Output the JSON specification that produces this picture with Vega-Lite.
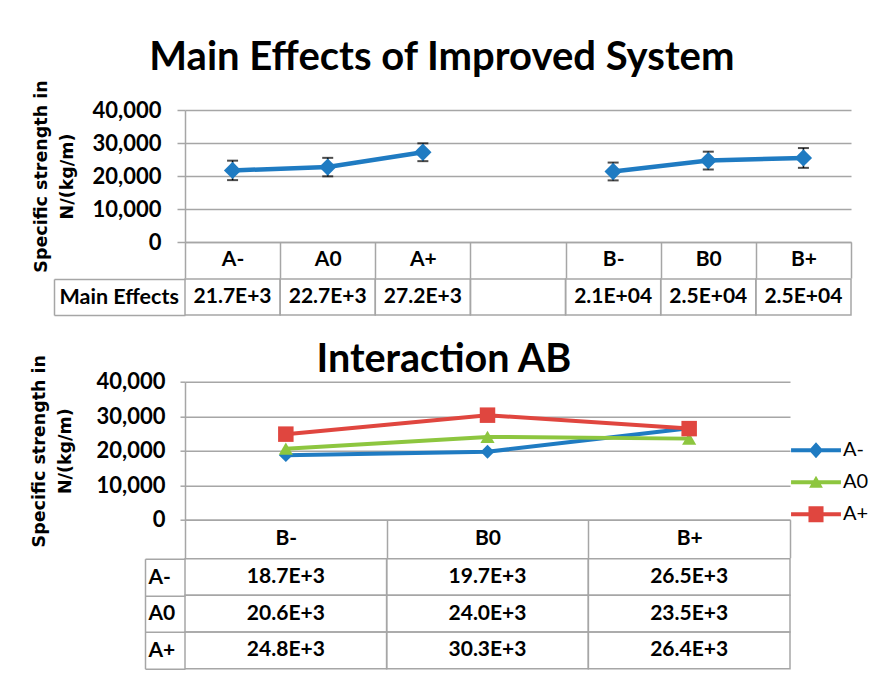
{
  "$schema": "https://vega.github.io/schema/vega-lite/v6.json",
  "background": "white",
  "padding": {"left": 30, "top": 37, "right": 0, "bottom": 0},
  "autosize": {"type": "pad"},
  "config": {"view": {"stroke": null}, "font": "Lato"},
  "datasets": {
    "main": [
      {"cat": "A-", "factor": "A", "value": 21700, "err": 2950, "row": "Main Effects", "label": "21.7E+3"},
      {"cat": "A0", "factor": "A", "value": 22700, "err": 2800, "row": "Main Effects", "label": "22.7E+3"},
      {"cat": "A+", "factor": "A", "value": 27200, "err": 2700, "row": "Main Effects", "label": "27.2E+3"},
      {"cat": " ", "factor": "none", "value": null, "err": null, "row": "Main Effects", "label": ""},
      {"cat": "B-", "factor": "B", "value": 21370, "err": 2700, "row": "Main Effects", "label": "2.1E+04"},
      {"cat": "B0", "factor": "B", "value": 24670, "err": 2700, "row": "Main Effects", "label": "2.5E+04"},
      {"cat": "B+", "factor": "B", "value": 25470, "err": 3000, "row": "Main Effects", "label": "2.5E+04"}
    ],
    "inter": [
      {"A": "A-", "B": "B-", "value": 18700, "label": "18.7E+3"},
      {"A": "A-", "B": "B0", "value": 19700, "label": "19.7E+3"},
      {"A": "A-", "B": "B+", "value": 26500, "label": "26.5E+3"},
      {"A": "A0", "B": "B-", "value": 20600, "label": "20.6E+3"},
      {"A": "A0", "B": "B0", "value": 24000, "label": "24.0E+3"},
      {"A": "A0", "B": "B+", "value": 23500, "label": "23.5E+3"},
      {"A": "A+", "B": "B-", "value": 24800, "label": "24.8E+3"},
      {"A": "A+", "B": "B0", "value": 30300, "label": "30.3E+3"},
      {"A": "A+", "B": "B+", "value": 26400, "label": "26.4E+3"}
    ]
  },
  "columns": 1,
  "spacing": 23.7,
  "resolve": {"scale": {"x": "independent", "y": "independent", "color": "independent"}},
  "concat": [
    {
      "spacing": -11.5,
      "resolve": {"scale": {"x": "independent", "y": "independent"}},
      "vconcat": [
        {
          "width": 666,
          "height": 132,
          "data": {"name": "main"},
          "title": {"text": "Main Effects of Improved System", "font": "Lato", "fontSize": 40, "fontWeight": "bold", "color": "#000000", "anchor": "middle", "frame": "bounds", "offset": 2},
          "transform": [{"filter": "isValid(datum.value)"}],
          "encoding": {
            "x": {"field": "cat", "type": "nominal",
              "scale": {"type": "band", "domain": ["A-", "A0", "A+", " ", "B-", "B0", "B+"], "paddingInner": 0, "paddingOuter": 0},
              "axis": {"title": null, "labelAngle": 0, "domain": true, "domainColor": "#A6A6A6", "domainWidth": 1.5, "ticks": true, "tickBand": "extent", "tickSize": 36, "tickColor": "#A6A6A6", "tickWidth": 1.5, "labelFont": "Lato", "labelFontWeight": "bold", "labelFontSize": 21, "labelColor": "#000000", "labelBaseline": "middle", "labelPadding": -19}},
            "y": {"field": "value", "type": "quantitative",
              "scale": {"domain": [0, 40000]},
              "axis": {"values": [0, 10000, 20000, 30000, 40000], "format": ",d", "title": ["Specific strength in", "N/(kg/m)"], "titleFont": "DejaVu Sans", "titleFontSize": 17.5, "titleFontWeight": "bold", "titleColor": "#000000", "titlePadding": 16, "titleLineHeight": 26, "grid": true, "gridColor": "#A6A6A6", "gridWidth": 1.5, "domain": true, "domainColor": "#A6A6A6", "domainWidth": 1.5, "tickSize": 8, "tickColor": "#A6A6A6", "tickWidth": 1.5, "labelFont": "Lato", "labelFontWeight": "bold", "labelFontSize": 22, "labelColor": "#000000", "labelPadding": 16}}
          },
          "layer": [
            {"mark": {"type": "line", "color": "#1F7BC2", "strokeWidth": 4.5}, "encoding": {"detail": {"field": "factor"}}},
            {"mark": {"type": "errorbar", "color": "#000000", "thickness": 1.5, "ticks": {"size": 11, "thickness": 2, "color": "#000000"}}, "encoding": {"yError": {"field": "err"}}},
            {"mark": {"type": "point", "shape": "diamond", "filled": true, "opacity": 1, "size": 300, "color": "#1F7BC2"}}
          ]
        },
        {
          "width": 666,
          "height": 36,
          "data": {"name": "main"},
          "encoding": {
            "x": {"field": "cat", "type": "nominal",
              "scale": {"type": "band", "domain": ["A-", "A0", "A+", " ", "B-", "B0", "B+"], "paddingInner": 0, "paddingOuter": 0},
              "axis": null}
          },
          "layer": [
            {"mark": {"type": "rect", "filled": false, "color": "#A6A6A6", "strokeWidth": 1.5},
              "encoding": {"y": {"field": "row", "type": "nominal",
                "axis": {"title": null, "domain": false, "ticks": true, "tickBand": "extent", "tickSize": 131, "tickColor": "#A6A6A6", "tickWidth": 1.5, "labelAlign": "left", "labelPadding": -5, "labelFont": "Lato", "labelFontWeight": "bold", "labelFontSize": 21.5, "labelColor": "#000000"}}}},
            {"mark": {"type": "text", "font": "Lato", "fontWeight": "bold", "fontSize": 21, "color": "#000000"},
              "encoding": {"text": {"field": "label"},
                "y": {"field": "row", "type": "nominal",
                  "axis": {"orient": "left", "offset": 131, "title": null, "domain": true, "domainColor": "#A6A6A6", "domainWidth": 1.5, "ticks": false, "labels": false}}}}
          ],
          "resolve": {"axis": {"y": "independent"}}
        }
      ]
    },
    {
      "spacing": -13,
      "resolve": {"scale": {"x": "independent", "y": "independent"}},
      "vconcat": [
        {
          "width": 605,
          "height": 138,
          "data": {"name": "inter"},
          "title": {"text": "Interaction AB", "font": "Lato", "fontSize": 39.5, "fontWeight": "bold", "color": "#000000", "anchor": "middle", "frame": "bounds", "offset": -26, "dx": 33.5},
          "encoding": {
            "x": {"field": "B", "type": "nominal",
              "scale": {"type": "band", "domain": ["B-", "B0", "B+"], "paddingInner": 0, "paddingOuter": 0},
              "axis": {"title": null, "labelAngle": 0, "domain": true, "domainColor": "#A6A6A6", "domainWidth": 1.5, "ticks": true, "tickBand": "extent", "tickSize": 38, "tickColor": "#A6A6A6", "tickWidth": 1.5, "labelFont": "Lato", "labelFontWeight": "bold", "labelFontSize": 21, "labelColor": "#000000", "labelBaseline": "middle", "labelPadding": -19}},
            "y": {"field": "value", "type": "quantitative",
              "scale": {"domain": [0, 40000]},
              "axis": {"values": [0, 10000, 20000, 30000, 40000], "format": ",d", "title": ["Specific strength in", "N/(kg/m)"], "titleFont": "DejaVu Sans", "titleFontSize": 17.5, "titleFontWeight": "bold", "titleColor": "#000000", "titlePadding": 22, "titleLineHeight": 26, "grid": true, "gridColor": "#A6A6A6", "gridWidth": 1.5, "domain": true, "domainColor": "#A6A6A6", "domainWidth": 1.5, "tickSize": 5, "tickColor": "#A6A6A6", "tickWidth": 1.5, "labelFont": "Lato", "labelFontWeight": "bold", "labelFontSize": 22, "labelColor": "#000000", "labelPadding": 15}},
            "color": {"field": "A", "type": "nominal",
              "scale": {"domain": ["A-", "A0", "A+"], "range": ["#1F7BC2", "#8DC63F", "#E0463F"]},
              "legend": {"orient": "none", "legendX": 609.5, "legendY": 47, "title": null, "direction": "vertical",
                "symbolSize": 1849, "symbolStrokeWidth": 0, "labelFont": "Lato", "labelFontSize": 20, "labelColor": "#000000", "labelOffset": 5.5, "rowPadding": 0,
                "encode": {"symbols": {"update": {
                  "shape": {"signal": "datum.value === 'A-' ? 'M-1.16,-0.093H1.16V0.093H-1.16Z M0,-0.37L0.33,0L0,0.37L-0.33,0Z' : datum.value === 'A0' ? 'M-1.16,-0.093H1.16V0.093H-1.16Z M0,-0.3L0.32,0.26L-0.32,0.26Z' : 'M-1.16,-0.093H1.16V0.093H-1.16Z M-0.35,-0.37H0.35V0.37H-0.35Z'"},
                  "size": {"value": 1849},
                  "fill": {"signal": "datum.value === 'A-' ? '#1F7BC2' : datum.value === 'A0' ? '#8DC63F' : '#E0463F'"},
                  "fillOpacity": {"value": 1},
                  "opacity": {"value": 1},
                  "strokeWidth": {"value": 0}
                }}}}}
          },
          "layer": [
            {"mark": {"type": "line", "strokeWidth": 4}},
            {"transform": [{"filter": "datum.A === 'A-'"}], "mark": {"type": "point", "filled": true, "opacity": 1, "shape": "diamond", "size": 190}},
            {"transform": [{"filter": "datum.A === 'A0'"}], "mark": {"type": "point", "filled": true, "opacity": 1, "shape": "triangle-up", "size": 200}},
            {"transform": [{"filter": "datum.A === 'A+'"}], "mark": {"type": "point", "filled": true, "opacity": 1, "shape": "square", "size": 240}}
          ]
        },
        {
          "width": 605,
          "height": 110,
          "data": {"name": "inter"},
          "encoding": {
            "x": {"field": "B", "type": "nominal",
              "scale": {"type": "band", "domain": ["B-", "B0", "B+"], "paddingInner": 0, "paddingOuter": 0},
              "axis": null}
          },
          "layer": [
            {"mark": {"type": "rect", "filled": false, "color": "#A6A6A6", "strokeWidth": 1.5},
              "encoding": {"y": {"field": "A", "type": "nominal", "scale": {"domain": ["A-", "A0", "A+"]},
                "axis": {"title": null, "domain": false, "ticks": true, "tickBand": "extent", "tickSize": 40, "tickColor": "#A6A6A6", "tickWidth": 1.5, "labelAlign": "left", "labelPadding": -3, "labelFont": "Lato", "labelFontWeight": "bold", "labelFontSize": 21, "labelColor": "#000000"}}}},
            {"mark": {"type": "text", "font": "Lato", "fontWeight": "bold", "fontSize": 21, "color": "#000000"},
              "encoding": {"text": {"field": "label"},
                "y": {"field": "A", "type": "nominal", "scale": {"domain": ["A-", "A0", "A+"]},
                  "axis": {"orient": "left", "offset": 40, "title": null, "domain": true, "domainColor": "#A6A6A6", "domainWidth": 1.5, "ticks": false, "labels": false}}}}
          ],
          "resolve": {"axis": {"y": "independent"}}
        }
      ]
    }
  ]
}
